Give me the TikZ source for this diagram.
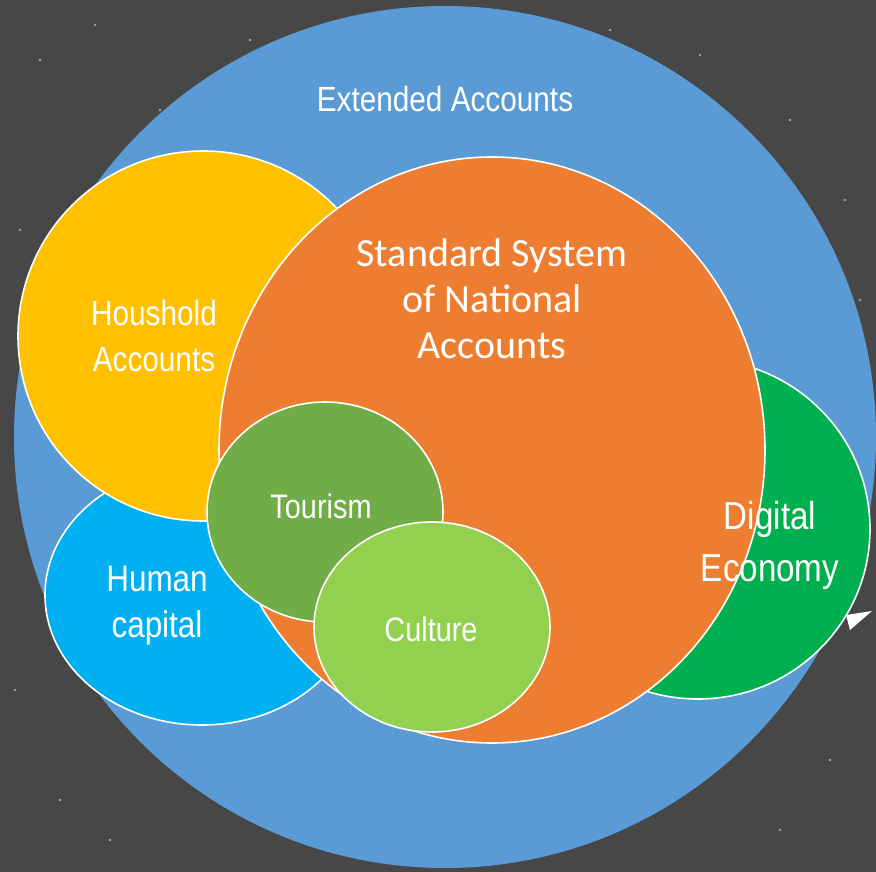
\documentclass[tikz,border=0pt]{standalone}
\usepackage{fontspec}
\newfontfamily\narrowsans{Liberation Sans}[FakeStretch=0.85]
\newfontfamily\calibrisans{Carlito}
\usepackage{xcolor}
\definecolor{skybg}{HTML}{474747}
\definecolor{extblue}{HTML}{5B9BD5}
\definecolor{snaorange}{HTML}{ED7D31}
\definecolor{houseyellow}{HTML}{FFC000}
\definecolor{humancyan}{HTML}{00B0F0}
\definecolor{digitalgreen}{HTML}{00B050}
\definecolor{tourgreen}{HTML}{70AD47}
\definecolor{culturegreen}{HTML}{92D050}
\tikzset{
  bubble/.style={draw=white, line width=1.6pt},
  bubbletext/.style={text=white, align=center, inner sep=0pt}
}

\begin{document}
\begin{tikzpicture}[x=1pt, y=-1pt]
				% background sky
				\fill[skybg] (0,0) rectangle (876,872);
				\useasboundingbox (0,0) rectangle (876,872);
				\foreach \sx/\sy in {40/60, 95/25, 160/110, 20/230, 250/40, 610/30, 700/55,
				  790/120, 845/200, 830/760, 780/830, 60/800, 110/840, 15/690, 860/300}
				  \fill[white, opacity=0.5] (\sx,\sy) circle [radius=1.3];
				\fill[white] (846,615) -- (872,611) -- (850,630) -- cycle;
				
				% outer circle
				\fill[extblue] (445,437) circle [radius=431];
				
				% bubbles, back to front
				\draw[bubble, fill=digitalgreen] (698,529) ellipse [x radius=172, y radius=170];
				\draw[bubble, fill=humancyan] (202,595) ellipse [x radius=157, y radius=130];
				\draw[bubble, fill=houseyellow] (203,336) circle [radius=185];
				\draw[bubble, fill=snaorange] (492,450) ellipse [x radius=273, y radius=293];
				\draw[bubble, fill=tourgreen] (325,512) ellipse [x radius=118, y radius=110];
				\draw[bubble, fill=culturegreen] (432,627) ellipse [x radius=118, y radius=105];
				
				% labels
				\node[bubbletext, font=\narrowsans\fontsize{35}{42}\selectfont]
				  (extended) at (445,99) {Extended Accounts};
				\node[bubbletext, font=\calibrisans\fontsize{40}{46}\selectfont]
				  (sna) at (492,299) {Standard System\\of National\\Accounts};
				\node[bubbletext, font=\narrowsans\fontsize{35}{46}\selectfont]
				  (household) at (154,336) {Houshold\\Accounts};
				\node[bubbletext, font=\narrowsans\fontsize{37}{46}\selectfont]
				  (human) at (157,606) {Human\\capital};
				\node[bubbletext, font=\narrowsans\fontsize{39}{52}\selectfont]
				  (digital) at (770,545) {Digital\\Economy};
				\node[bubbletext, font=\narrowsans\fontsize{34}{40}\selectfont]
				  (tourism) at (321,506) {Tourism};
				\node[bubbletext, font=\narrowsans\fontsize{34}{40}\selectfont]
				  (culture) at (431,629) {Culture};
			\end{tikzpicture}
\end{document}
